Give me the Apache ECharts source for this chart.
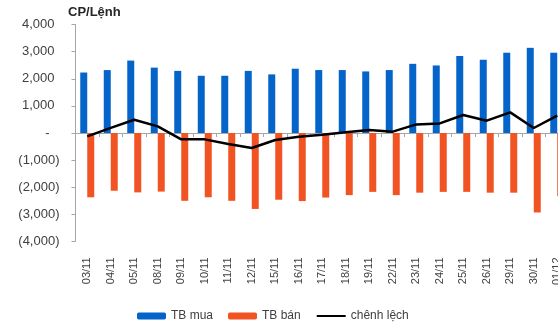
<!DOCTYPE html>
<html>
<head>
<meta charset="utf-8">
<script src="https://cdn.jsdelivr.net/npm/echarts@6/dist/echarts.min.js"></script>
<style>
  html, body { margin: 0; padding: 0; background: #fff; }
  #chart { width: 558px; height: 326px; }
</style>
</head>
<body>
<div id="chart"></div>
<script>
// Trading days (dd/mm)
const days = ['03/11', '04/11', '05/11', '08/11', '09/11', '10/11', '11/11', '12/11', '15/11', '16/11',
              '17/11', '18/11', '19/11', '22/11', '23/11', '24/11', '25/11', '26/11', '29/11', '30/11', '01/12'];

// Average shares per buy order
const tbMua = [2230, 2320, 2670, 2410, 2290, 2110, 2110, 2290, 2160, 2370,
               2320, 2320, 2270, 2320, 2550, 2490, 2840, 2700, 2960, 3140, 2960];

// Average shares per sell order (negative side)
const tbBan = [-2370, -2130, -2190, -2160, -2500, -2370, -2500, -2800, -2460, -2510,
               -2380, -2290, -2170, -2290, -2200, -2170, -2170, -2200, -2200, -2930, -2330];

// Difference between the two
const chenhLech = [-125, 190, 490, 245, -235, -235, -405, -553, -258, -136,
                   -63, 25, 110, 49, 317, 354, 664, 454, 760, 185, 640];

// Y-axis tick values
const yTicks = { min: -4000, max: 4000, step: 1000 };

const axisGray = '#a6a6a6';
const textGray = '#404040';
const fontFam = '"Liberation Sans", Arial, sans-serif';

function fmtY(v) {
  if (v === 0) return '{z|-}';
  const s = Math.abs(v).toLocaleString('en-US');
  return v < 0 ? '{n|(' + s + ')}' : '{p|' + s + '}';
}

const chart = echarts.init(document.getElementById('chart'), null, { renderer: 'canvas' });
chart.setOption({
  animation: false,
  backgroundColor: '#fff',
  title: {
    text: 'CP/Lệnh',
    left: 68, top: 6, padding: 0,
    textStyle: { fontFamily: fontFam, fontSize: 13, fontWeight: 'bold', color: '#262626' }
  },
  // the last day runs past the right edge of the canvas
  grid: { left: 75.5, top: 24.5, width: 493.5, height: 217, containLabel: false, outerBoundsMode: 'none' },
  legend: {
    left: 137, top: 310, padding: 0,
    itemWidth: 29, itemHeight: 7, itemGap: 15,
    textStyle: { fontFamily: fontFam, fontSize: 12, color: textGray },
    data: [
      'TB mua',
      'TB bán',
      { name: 'chênh lệch', itemStyle: { color: 'rgba(0,0,0,0)', borderColor: 'rgba(0,0,0,0)', borderWidth: 0 } }
    ]
  },
  xAxis: [
    {
      type: 'category', data: days, position: 'bottom',
      axisLine: { onZero: true, lineStyle: { color: axisGray, width: 1 } },
      axisTick: { show: true, interval: 0, length: 4, lineStyle: { color: axisGray } },
      axisLabel: { show: false }
    },
    {
      type: 'category', data: days, position: 'bottom',
      axisLine: { show: false, onZero: false },
      axisTick: { show: false },
      axisLabel: {
        interval: 0, rotate: 90, margin: 16,
        fontFamily: fontFam, fontSize: 11, color: textGray
      }
    }
  ],
  yAxis: {
    type: 'value', min: yTicks.min, max: yTicks.max, interval: yTicks.step,
    axisLine: { show: true, lineStyle: { color: axisGray } },
    axisTick: { show: true, length: 4, lineStyle: { color: axisGray } },
    splitLine: { show: false },
    axisLabel: {
      margin: 16, formatter: fmtY,
      rich: {
        p: { fontFamily: fontFam, fontSize: 13, color: textGray, padding: [0, 5, 0, 0] },
        n: { fontFamily: fontFam, fontSize: 13, color: textGray },
        z: { fontFamily: fontFam, fontSize: 13, color: textGray, padding: [0, 10, 0, 0] }
      }
    }
  },
  series: [
    {
      name: 'TB mua', type: 'bar', xAxisIndex: 0, data: tbMua,
      barWidth: 7, barGap: '0%',
      itemStyle: { color: '#0564c9' }
    },
    {
      name: 'TB bán', type: 'bar', xAxisIndex: 0, data: tbBan,
      barWidth: 7, barGap: '0%',
      itemStyle: { color: '#f25323' }
    },
    {
      name: 'chênh lệch', type: 'line', xAxisIndex: 0, data: chenhLech,
      symbol: 'none', z: 5,
      lineStyle: { color: '#000', width: 2.5 },
      itemStyle: { color: '#000' }
    }
  ]
});
</script>
</body>
</html>
